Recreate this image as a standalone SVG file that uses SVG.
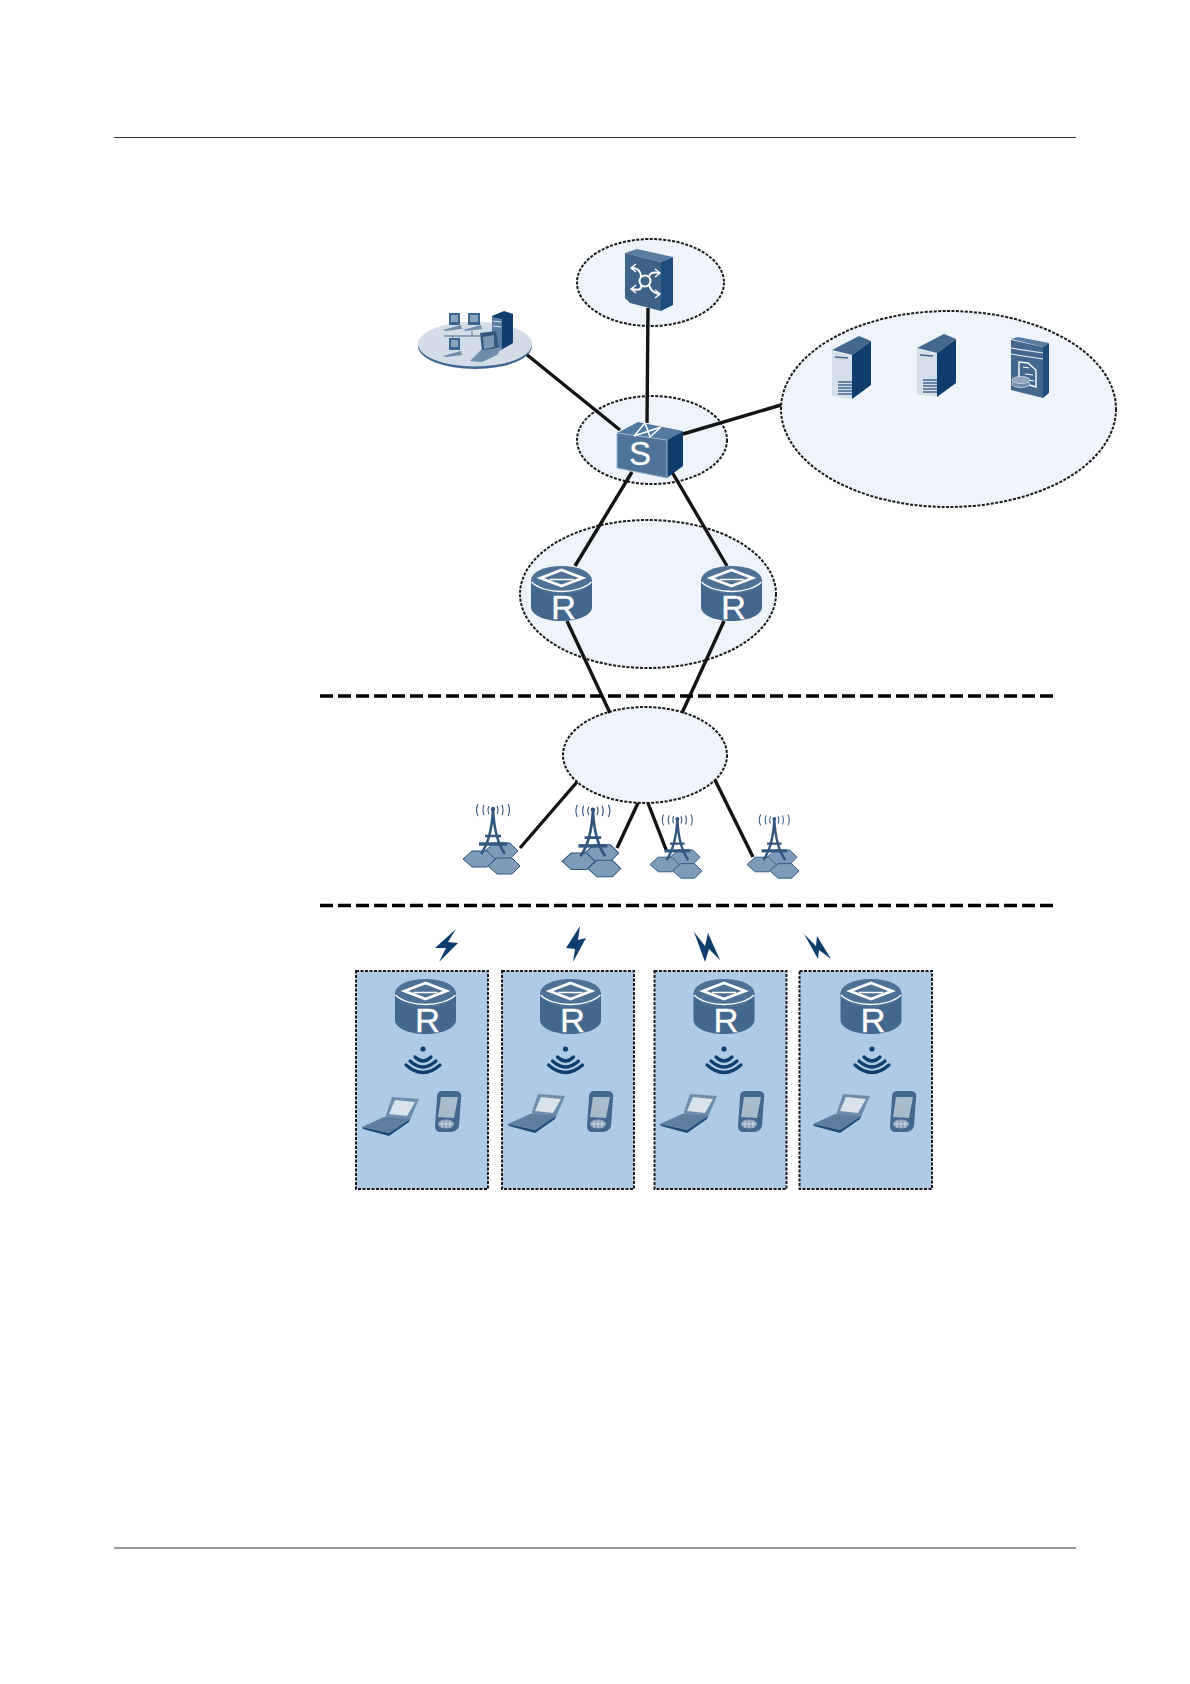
<svg xmlns="http://www.w3.org/2000/svg" width="1190" height="1684" viewBox="0 0 1190 1684">
<style>
.zone{fill:#eef4f9;stroke:#1a1a1a;stroke-width:2;stroke-dasharray:3 1.5}
.box{fill:#aecae5;stroke:#1a1a1a;stroke-width:2;stroke-dasharray:3 1.5}
.link{stroke:#141414;stroke-width:3.4;fill:none}
.sep{stroke:#000;stroke-width:3.4;stroke-dasharray:13 5;fill:none}
.rule{stroke:#333;stroke-width:1.2}
.m{fill:#44678e}.d{fill:#0f3e6e}
.wave{fill:none;stroke:#0f3e6e;stroke-width:3.2;stroke-linecap:round}
.t{fill:none;stroke:#33567e;stroke-width:2.6}
.ant{fill:none;stroke:#33567e;stroke-width:1.1}
.hex{fill:#7e9bba;stroke:#2e5580;stroke-width:1}
.lab{font-family:"Liberation Sans",Arial,sans-serif;fill:#fff;stroke:#fff;stroke-width:.3}
</style>
<defs>
<g id="router">
<path class="m" d="M-30.500 14V41C-30.500 49 -17 55 0 55S30.500 49 30.500 41V14Z"/>
<ellipse cx="0" cy="14" rx="30.500" ry="14" fill="#4f7196"/>
<path d="M-30 16C-24 22 -12 25.500 0 25.500S24 22 30 16" fill="none" stroke="#fff" stroke-width="1.300"/>
<path d="M-21 12L0 4L21 12L0 20Z" fill="none" stroke="#fff" stroke-width="2.800"/>
<path d="M-12 13.500H12" stroke="#fff" stroke-width="1.500"/>
<text class="lab" transform="translate(2 53) scale(1.05 1)" font-size="33" text-anchor="middle">R</text>
</g>
<g id="wifi">
<circle class="d" cx="0" cy="0" r="2.600"/>
<path class="wave" d="M-8 8Q0 16 8 8"/>
<path class="wave" d="M-13 12Q0 24 13 12"/>
<path class="wave" d="M-17 16Q0 31 17 16"/>
</g>
<g id="laptop">
<path d="M30 1L57 3L48 24L23 22Z" fill="#6f8cab"/>
<path d="M33 4L53 6L45 20L27 18Z" fill="#d9e3ec"/>
<path d="M0 31L22 21L48 23L27 37Z" fill="#5f7e9f"/>
<path d="M0 31L27 37L48 23L47 26L27 40L1 33Z" fill="#1f4a78"/>
</g>
<g id="phone">
<path d="M9 1H23C27 1 29 4 28 8L26 36C25 40 21 42 16 42H8C4 42 2 40 2 36L4 8C4 4 5 1 9 1Z" fill="#44678e"/>
<path d="M8 7H25L21 28L5 27Z" fill="#a9bacb"/>
<ellipse cx="13" cy="34" rx="8" ry="4.500" fill="#8ca3bb"/>
<path d="M6 34H20M9 31V38M13 31V38M17 31V38" stroke="#dfe7ef" stroke-width=".8"/>
</g>
<g id="tower">
<path class="hex" d="M22 3L31 -5H47L55 3L47 11H31Z"/>
<path class="hex" d="M0 11L9 3H24L32 11L24 19H9Z"/>
<path class="hex" d="M25 18L34 10H49L57 18L49 26H34Z"/>
<path class="t" d="M30 -38C29 -20 26 -5 18 6M30 -38C31 -20 34 -5 42 6M22 -12H38"/>
<path d="M16 -4H44" stroke="#33567e" stroke-width="3.400" fill="none"/>
<circle cx="30" cy="-39" r="2.200" fill="#33567e"/>
<path class="ant" d="M26 -42Q24 -38 26 -34M34 -42Q36 -38 34 -34M21 -43Q19 -38 21 -33M39 -43Q41 -38 39 -33M15 -44Q12 -38 15 -32M45 -44Q48 -38 45 -32"/>
</g>
<g id="server">
<path d="M0 14L27 0L39 5L20 19Z" fill="#44678e"/>
<path d="M20 19L39 5V49L20 63Z" fill="#0f3e6e"/>
<path d="M0 15L20 20V63L0 60Z" fill="#d5dfe9"/>
<path d="M3 21L16 22" stroke="#44678e" stroke-width="1.500"/>
<path d="M6 46H20M6 49H20M6 52H20M6 55H20M6 58H20" stroke="#44678e" stroke-width="1.300"/>
</g>
</defs>
<path class="rule" d="M114 137.500H1076M114 1548H1076"/>

<g id="zone-top"><ellipse class="zone" cx="650.500" cy="282.500" rx="73.500" ry="43.500"/></g>
<g id="zone-switch"><ellipse class="zone" cx="652" cy="440" rx="75" ry="44"/></g>
<g id="zone-servers"><ellipse class="zone" cx="948.500" cy="409" rx="167.500" ry="98"/></g>
<g id="zone-routers"><ellipse class="zone" cx="648" cy="594" rx="128" ry="74"/></g>
<g id="zone-cloud"><ellipse class="zone" cx="645" cy="755" rx="82" ry="48"/></g>

<g id="connectors">
<path class="link" d="M526 354L620 430M648 308L647 423M683 434L781 405M632 472L575 566M672 472L727 566M567 621L610 713M724 621L682 713M577 782L520 848M638 803L617 848M648 803L667 852M715 780L753 857"/>
<path class="sep" d="M320 696H1053M320 905.500H1053"/>
</g>

<g id="lan">
<ellipse cx="475" cy="346" rx="57" ry="23" fill="#3f6690"/>
<ellipse cx="475" cy="344" rx="57" ry="22.500" fill="#d3dde8"/>
<path d="M444 336H480M453 336V340M472 336V331" stroke="#7c8fa4" stroke-width="1.500" fill="none"/>
<path d="M492 316L504 311L513 314V343L501 350Z" fill="#0f3e6e"/>
<path d="M492 317L502 319V349L492 345Z" fill="#5a7ca3"/>
<path d="M493 321L501 322M493 326L501 327" stroke="#dfe7ef" stroke-width="1.200"/>
<path d="M449 313H460V325H449Z M468 313H480V325H468Z M449 338H460V350H449Z" fill="#3f6690"/>
<path d="M451 315H458V322H451Z M470 315H478V322H470Z M451 340H458V347H451Z" fill="#8ba4bd"/>
<path d="M443 330L461 325L462 329L446 331Z M463 330L481 325L482 329L466 331Z M443 356L461 351L462 355L446 357Z" fill="#6f8cab"/>
<path d="M480 333L496 331L499 348L482 351Z" fill="#34597f"/>
<path d="M483 337L494 335V347L484 349Z" fill="#7c99b6"/>
<path d="M470 361L481 350L502 348L497 355L482 362Z" fill="#6f8cab"/>
</g>

<g id="core-device">
<path d="M625 253L637 249L673 257L661 262Z" fill="#5a7ca3"/>
<path d="M625 253L661 262V311L630 303L625 298Z" fill="#3f6289"/>
<path d="M661 262L673 257V305L661 311Z" fill="#1d4c7e"/>
<circle cx="645" cy="281" r="5.500" fill="none" stroke="#fff" stroke-width="2"/>
<path d="M632 268C641 268 641 276 641 277M659 273C651 271 649 275 649 277M632 289C641 291 642 288 641 285M659 294C650 292 650 287 649 285" stroke="#fff" stroke-width="2" fill="none"/>
<path d="M636 264L631 268L636 272M655 269L660 273L655 277M636 285L631 289L636 293M655 290L660 294L655 298" stroke="#fff" stroke-width="1.400" fill="none"/>
</g>

<g id="switch">
<path d="M617 433L638 422L683 431L667 440Z" fill="#557aa1"/>
<path d="M667 440L683 431V466L667 478Z" fill="#0f3e6e"/>
<path d="M617 433L667 440V478L617 468Z" fill="#4f7299" stroke="#9db4cb" stroke-width="1"/>
<path d="M634 436L661 427L650 437L645 423L634 436" stroke="#fff" stroke-width="1.500" fill="none"/>
<text class="lab" x="640" y="465" font-size="33" text-anchor="middle">S</text>
</g>

<g id="server-1"><use href="#server" x="832" y="336"/></g>
<g id="server-2"><use href="#server" x="917" y="334"/></g>
<g id="file-server">
<path d="M1011 339L1018 337L1049 343L1043 347Z" fill="#5a7ca3"/>
<path d="M1011 340L1043 347V398L1011 390Z" fill="#44678e"/>
<path d="M1043 347L1049 343V393L1043 398Z" fill="#1d4c7e"/>
<path d="M1011 348L1043 353M1011 354L1043 359" stroke="#dfe7ef" stroke-width="1.200"/>
<path d="M1019 362L1028 363L1036 370V387L1019 382Z" fill="#44678e" stroke="#fff" stroke-width="1.400"/>
<path d="M1023 367L1029 368M1025 374L1033 375M1028 380L1034 381" stroke="#fff" stroke-width="1.200"/>
<ellipse cx="1021" cy="384" rx="9" ry="3.500" fill="#6f8cab" stroke="#dfe7ef" stroke-width=".7"/>
<ellipse cx="1021" cy="380" rx="9" ry="3.500" fill="#8ea6be" stroke="#dfe7ef" stroke-width=".7"/>
</g>

<g id="router-1"><use href="#router" x="561.500" y="566"/></g>
<g id="router-2"><use href="#router" x="731.500" y="566"/></g>

<g id="tower-1"><use href="#tower" x="463" y="848"/></g>
<g id="tower-2"><use href="#tower" transform="translate(562 850) scale(1.03)"/></g>
<g id="tower-3"><use href="#tower" transform="translate(650 854.500) scale(.91)"/></g>
<g id="tower-4"><use href="#tower" transform="translate(747 854.500) scale(.91)"/></g>

<g id="bolts" class="d">
<path d="M456 929L435 948L446 948L439 962L458 943L448 942Z"/>
<path d="M580 926L566 948L575 949L573 962L586 938L578 940Z"/>
<path d="M694 932L705 962L709 949L720 960L708 933L705 946Z"/>
<path d="M804 934L818 959L819 950L831 959L817 936L816 946Z"/>
</g>

<g id="site-1"><rect class="box" x="356" y="971" width="132" height="218"/><use href="#router" x="425.500" y="979"/><use href="#wifi" x="423" y="1049"/><use href="#laptop" x="362" y="1096"/><use href="#phone" x="433" y="1090"/></g>
<g id="site-2"><rect class="box" x="502" y="971" width="132" height="218"/><use href="#router" x="570.500" y="979"/><use href="#wifi" x="565.500" y="1049"/><use href="#laptop" x="508" y="1093"/><use href="#phone" x="585" y="1090"/></g>
<g id="site-3"><rect class="box" x="654.500" y="971" width="132" height="218"/><use href="#router" x="724" y="979"/><use href="#wifi" x="724" y="1049"/><use href="#laptop" x="660" y="1093"/><use href="#phone" x="736" y="1090"/></g>
<g id="site-4"><rect class="box" x="799.500" y="971" width="132.500" height="218"/><use href="#router" x="871" y="979"/><use href="#wifi" x="872" y="1049"/><use href="#laptop" x="813" y="1093"/><use href="#phone" x="888" y="1090"/></g>
</svg>
